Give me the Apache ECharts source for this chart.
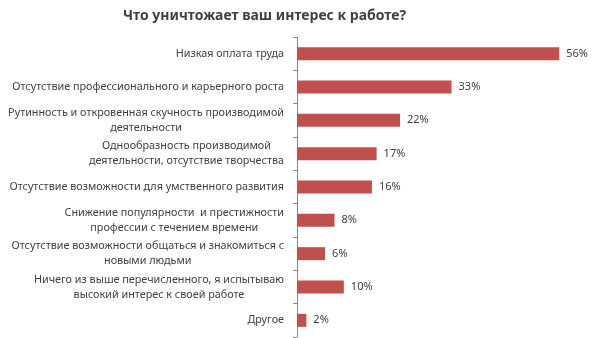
<!DOCTYPE html>
<html>
<head>
<meta charset="utf-8">
<script src="https://cdn.jsdelivr.net/npm/echarts@6/dist/echarts.min.js"></script>
<style>
  html, body { margin: 0; padding: 0; background: #fff; }
  #chart { width: 600px; height: 338px; }
</style>
</head>
<body>
<div id="chart"></div>
<script>
// Survey answers, listed top to bottom as they appear in the chart
const categories = [
  'Низкая оплата труда',
  'Отсутствие профессионального и карьерного роста',
  'Рутинность и откровенная скучность производимой\nдеятельности',
  'Однообразность производимой\nдеятельности, отсутствие творчества',
  'Отсутствие возможности для умственного развития',
  'Снижение популярности  и престижности\nпрофессии с течением времени',
  'Отсутствие возможности общаться и знакомиться с\nновыми людьми',
  'Ничего из выше перечисленного, я испытываю\nвысокий интерес к своей работе',
  'Другое'
];
const shares = [56, 33, 22, 17, 16, 8, 6, 10, 2];
const titleText = 'Что уничтожает ваш интерес к работе?';

const textColor = '#404040';
const fontFamily = '"Noto Sans", "Open Sans", sans-serif';

const chart = echarts.init(document.getElementById('chart'), null, { renderer: 'canvas' });

chart.setOption({
  animation: false,
  title: {
    text: titleText,
    left: 118,
    top: 4,
    textStyle: { fontFamily, fontSize: 14, fontWeight: 'bold', color: textColor }
  },
  grid: { left: 297, right: 22, top: 37, bottom: 1, containLabel: false },
  xAxis: {
    type: 'value',
    min: 0,
    max: 60,
    show: false
  },
  yAxis: {
    type: 'category',
    inverse: true,
    data: categories,
    axisLine: { show: true, lineStyle: { color: '#868686', width: 1 } },
    axisTick: { show: true, length: 4, lineStyle: { color: '#868686' } },
    axisLabel: {
      margin: 13,
      color: textColor,
      fontFamily,
      fontSize: 10.8,
      lineHeight: 15,
      // multi-line names are centred line by line inside their block
      formatter: (v) => v.split('\n').map(l => '{c|' + l + '}').join('\n'),
      rich: {
        c: { align: 'center', color: textColor, fontFamily, fontSize: 10.8, lineHeight: 15 }
      }
    },
    splitLine: { show: false }
  },
  series: [{
    type: 'bar',
    data: shares,
    barWidth: 13,
    itemStyle: { color: '#C0504D' },
    label: {
      show: true,
      position: 'right',
      distance: 7,
      formatter: (p) => p.value + '%',
      color: textColor,
      fontFamily,
      fontSize: 11
    }
  }]
});
</script>
</body>
</html>
